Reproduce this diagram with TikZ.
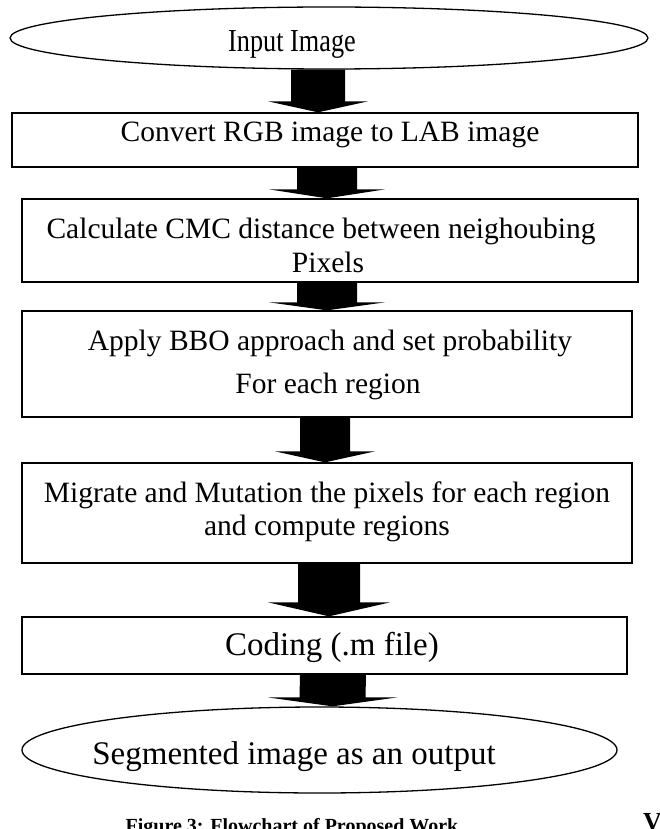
\documentclass[tikz,border=0pt]{standalone}
\usepackage{fontspec}
\setmainfont{Liberation Serif}
\usetikzlibrary{shapes.geometric,calc}
\newcommand{\blockarrow}[5]{%
  \fill ($(#1)+(-#3,0)$) -- ($(#2)+(-#3,-#5)$) -- ($(#2)+(-#4,-#5)$) -- (#2)
        -- ($(#2)+(#4,-#5)$) -- ($(#2)+(#3,-#5)$) -- ($(#1)+(#3,0)$) -- cycle;}
\begin{document}
\begin{tikzpicture}[x=1pt,y=-1pt,
  box/.style={draw, line width=1.3pt, inner sep=0pt, rectangle},
  oval/.style={draw, line width=1.3pt, ellipse, inner sep=0pt},
  txt/.style={anchor=base, inner sep=0pt, font=\fontsize{29.5}{34}\selectfont},
  bigtxt/.style={anchor=base, inner sep=0pt, font=\fontsize{33}{38}\selectfont},
  captxt/.style={anchor=base, inner sep=0pt, font=\fontsize{20}{24}\selectfont\bfseries}
]
\useasboundingbox (0,0) rectangle (659,829);

% shapes
\node[oval, minimum width=638pt, minimum height=62pt] (e1) at (329,38) {};
\node[box, minimum width=626pt, minimum height=54pt] (b1) at (325,140) {};
\node[box, minimum width=616pt, minimum height=83pt] (b2) at (330,240.5) {};
\node[box, minimum width=610pt, minimum height=106pt] (b3) at (327,364) {};
\node[box, minimum width=610pt, minimum height=100pt] (b4) at (327,513) {};
\node[box, minimum width=605pt, minimum height=57pt] (b5) at (324.5,645.5) {};
\node[oval, minimum width=595pt, minimum height=86pt] (e2) at (319.5,750) {};

% texts
\node[anchor=base, inner sep=0pt, font=\fontsize{32}{36}\selectfont, xscale=0.82] (t0) at (292,52) {Input Image};
\node[txt] (t1) at (330,142) {Convert RGB image to LAB image};
\node[txt] (t2a) at (321,238) {Calculate CMC distance between neighoubing};
\node[txt] (t2b) at (328,272) {Pixels};
\node[txt] (t3a) at (330,350) {Apply BBO approach and set probability};
\node[txt] (t3b) at (328,393) {For each region};
\node[txt] (t4a) at (327,502) {Migrate and Mutation the pixels for each region};
\node[txt] (t4b) at (327,535) {and compute regions};
\node[bigtxt] (t5) at (332,655) {Coding (.m file)};
\node[bigtxt] (t6) at (294,764) {Segmented image as an output};
\node[captxt] (cap) at (292,832) {Figure 3: Flowchart of Proposed Work};
\node[anchor=base west, inner sep=0pt, font=\fontsize{26}{30}\selectfont\bfseries] (vv) at (643,830) {V};

% connectors (block arrows)
\coordinate (a1s) at ($(e1.south)+(-11,0)$);
\coordinate (a1e) at ($(b1.north)+(-7,0)$);
\blockarrow{a1s}{a1e}{27}{50}{11}
\coordinate (a2s) at ($(b1.south)+(2,0)$);
\coordinate (a2e) at ($(b2.north)+(-3,0)$);
\blockarrow{a2s}{a2e}{30}{58}{9}
\coordinate (a3s) at ($(b2.south)+(-3,0)$);
\coordinate (a3e) at ($(b3.north)+(0,0)$);
\blockarrow{a3s}{a3e}{30}{58}{8}
\coordinate (a4s) at ($(b3.south)+(-2,0)$);
\coordinate (a4e) at ($(b4.north)+(-2,0)$);
\blockarrow{a4s}{a4e}{25}{50}{11}
\coordinate (a5s) at ($(b4.south)+(2,0)$);
\coordinate (a5e) at ($(b5.north)+(4.5,0)$);
\blockarrow{a5s}{a5e}{31}{61}{14}
\coordinate (a6s) at ($(b5.south)+(8.5,0)$);
\coordinate (a6e) at ($(e2.north)+(13,0)$);
\blockarrow{a6s}{a6e}{33}{65}{9}
\end{tikzpicture}
\end{document}
